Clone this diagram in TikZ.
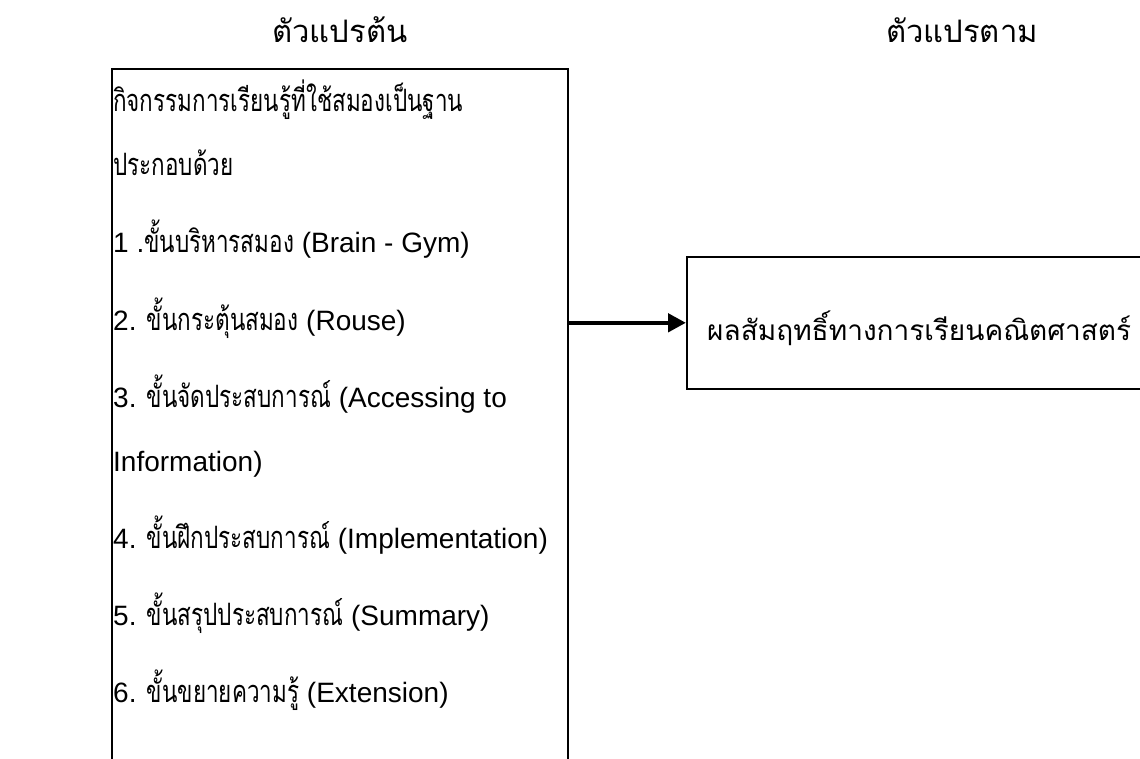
\documentclass[tikz,border=0pt]{standalone}
\usepackage{fontspec}
\setmainfont{Liberation Sans}
\newfontfamily\thai[Script=Thai]{Loma}
\newfontfamily\thaic[Script=Thai, Scale=1.1, FakeStretch=0.73]{Loma}
\usetikzlibrary{arrows.meta}
\tikzset{
  frame/.style={draw=black, line width=1.6pt, inner sep=0pt, fill=none},
  linetext/.style={anchor=base west, inner sep=0pt, font=\fontsize{28}{34}\selectfont},
  headtext/.style={anchor=base, inner sep=0pt, font=\fontsize{31}{36}\selectfont},
  bigarrow/.style={line width=4.5pt, -{Triangle[length=18pt,width=18pt]}}
}
\begin{document}
\begin{tikzpicture}[x=1pt,y=-1pt]
\useasboundingbox (0,0) rectangle (1140,759);
\fill[white] (0,0) rectangle (1140,759);
\node[headtext] (hin) at (340,43) {\thai ตัวแปรต้น};
\node[headtext] (hout) at (962,43) {\thai ตัวแปรตาม};
\node[frame, minimum width=456pt, minimum height=900pt, anchor=north west] (left) at (111,68) {};
\node[frame, minimum width=520pt, minimum height=132pt, anchor=north west] (right) at (686,256) {};
\node[linetext] (l1) at (113,112) {\thaic กิจกรรมการเรียนรู้ที่ใช้สมองเป็นฐาน};
\node[linetext] (l2) at (113,176) {\thaic ประกอบด้วย};
\node[linetext] (l3) at (113,253) {1 .{\thaic ขั้นบริหารสมอง} (Brain - Gym)};
\node[linetext] (l4) at (113,330) {2. {\thaic ขั้นกระตุ้นสมอง} (Rouse)};
\node[linetext] (l5) at (113,407) {3. {\thaic ขั้นจัดประสบการณ์} (Accessing to};
\node[linetext] (l6) at (113,471) {Information)};
\node[linetext] (l7) at (113,548) {4. {\thaic ขั้นฝึกประสบการณ์} (Implementation)};
\node[linetext] (l8) at (113,625) {5. {\thaic ขั้นสรุปประสบการณ์} (Summary)};
\node[linetext] (l9) at (113,702) {6. {\thaic ขั้นขยายความรู้} (Extension)};
\node[linetext] (rt) at (707,340) {\thai ผลสัมฤทธิ์ทางการเรียนคณิตศาสตร์};
\draw[bigarrow] (left.east |- right.west) -- (right.west);
\end{tikzpicture}
\end{document}
